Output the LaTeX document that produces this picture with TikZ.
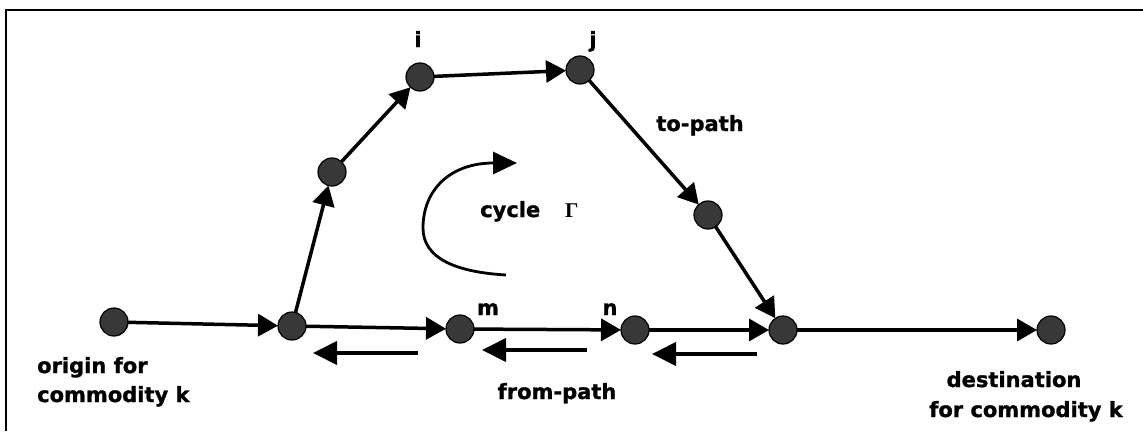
\documentclass[tikz,border=0pt]{standalone}
\usepackage{fontspec}
\setmainfont{DejaVu Sans}[BoldFeatures={FakeBold=1.2}]
\newfontfamily\gammafont{Liberation Serif}
\usetikzlibrary{arrows.meta}
\begin{document}
\begin{tikzpicture}[x=1pt,y=-1pt,
  vert/.style={circle, fill=black!78, draw=black, line width=1.2pt, minimum size=28pt, inner sep=0pt, outer sep=0pt},
  edge/.style={line width=3.5pt, -{Triangle[length=20pt,width=22pt]}},
  back/.style={line width=4pt, -{Triangle[length=24pt,width=23pt]}},
  lbl/.style={font=\fontsize{21}{25}\selectfont\bfseries, anchor=base, inner sep=0pt},
  frame/.style={line width=2.2pt}]
\useasboundingbox (0,0) rectangle (1143,431);
% frame
\coordinate (f1) at (6,431);
\coordinate (f2) at (6,10);
\coordinate (f3) at (1143,10);
\draw[frame] (f1) -- (f2) -- (f3);
% vertices
\node[vert] (O) at (114,322) {};
\node[vert] (A) at (292,326) {};
\node[vert] (B) at (332,172) {};
\node[vert] (I) at (420,77) {};
\node[vert] (J) at (580,70) {};
\node[vert] (C) at (708,215) {};
\node[vert] (D) at (783,330) {};
\node[vert] (M) at (460,329) {};
\node[vert] (N) at (635,330) {};
\node[vert] (T) at (1051,330) {};
% edges
\draw[edge] (O) -- (A);
\draw[edge] (A) -- (B);
\draw[edge] (B) -- (I);
\draw[edge] (I) -- (J);
\draw[edge] (J) -- (C);
\draw[edge] (C) -- (D);
\draw[edge] (A) -- (M);
\draw[edge] (M) -- (N);
\draw[edge] (N) -- (D);
\draw[edge] (D) -- (T);
% from-path arrows
\coordinate (r1s) at (418,353); \coordinate (r1e) at (313,353);
\coordinate (r2s) at (587,350); \coordinate (r2e) at (482,350);
\coordinate (r3s) at (757,354); \coordinate (r3e) at (652,354);
\draw[back] (r1s) -- (r1e);
\draw[back] (r2s) -- (r2e);
\draw[back] (r3s) -- (r3e);
% cycle arrow
\coordinate (cs) at (506,275);
\coordinate (ce) at (517,163);
\draw[line width=2.8pt, -{Triangle[length=24pt,width=22pt]}] (cs) .. controls (455,272) and (423,258) .. (423,228) .. controls (423,190) and (450,163) .. (ce);
% labels
\node[lbl] (li) at (418,47) {i};
\node[lbl] (lj) at (593,47) {j};
\node[lbl] (lto) at (700,131) {to-path};
\node[lbl, anchor=base west] (lcyc) at (480,217) {cycle};
\node[lbl, anchor=base west] (lgam) at (565,217) {\gammafont\bfseries Γ};
\node[lbl] (lm) at (488,315) {m};
\node[lbl] (ln) at (610,315) {n};
\node[lbl] (lfrom) at (557,399) {from-path};
\node[lbl, anchor=base west] (lo1) at (37,373) {origin for};
\node[lbl, anchor=base west] (lo2) at (37,402) {commodity k};
\node[lbl] (ld1) at (1014,387) {destination};
\node[lbl] (ld2) at (1026,417) {for commodity k};
\end{tikzpicture}
\end{document}
